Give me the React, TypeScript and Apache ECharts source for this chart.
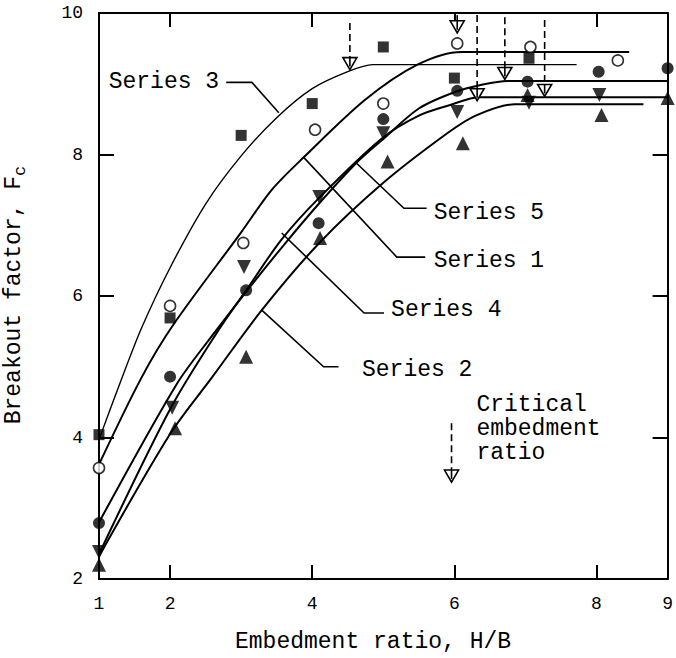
import React, { useEffect, useRef } from "react";
import * as echarts from "echarts";

const FONT = '"Liberation Mono", "DejaVu Sans Mono", monospace';

// Axis ticks / labels
const xLabelValues = [1, 2, 4, 6, 8, 9];
const xTickValues = [2, 4, 6, 8];
const yLabelValues = [2, 4, 6, 8, 10];
const yTickValues = [4, 6, 8];

// Measured points (H/B, Fc)
const series1Points = [[1, 3.57], [2, 5.86], [3.03, 6.75], [4.04, 8.35], [5, 8.72], [6.04, 9.57], [7.07, 9.52], [8.3, 9.33]]; // open circle
const series2Points = [[1, 2.2], [2.07, 4.13], [3.07, 5.14], [4.11, 6.82], [5.06, 7.9], [6.12, 8.16], [7.03, 8.84], [8.07, 8.56], [9, 8.8]]; // up triangle
const series3Points = [[1, 4.04], [2, 5.69], [3, 8.27], [4, 8.72], [5, 9.52], [6, 9.08], [7.05, 9.36]]; // square
const series4Points = [[1, 2.38], [2.03, 4.42], [3.04, 6.41], [4.1, 7.4], [5, 8.3], [6.04, 8.6], [7.05, 8.73], [8.04, 8.84]]; // down triangle
const series5Points = [[1, 2.79], [2, 4.86], [3.07, 6.08], [4.09, 7.03], [5, 8.5], [6.04, 8.9], [7.03, 9.03], [8.03, 9.17], [9, 9.22]]; // filled circle

// Fitted curves
const series1Curve = [[1, 3.62], [1.6, 4.85], [2.05, 5.6], [3, 6.9], [3.43, 7.5], [3.88, 7.96], [4.74, 8.77], [5.48, 9.27], [6.1, 9.45], [6.6, 9.45], [8.46, 9.45]];
const series2Curve = [[1, 2.32], [2, 4.05], [2.59, 4.85], [3.29, 5.8], [4.1, 6.75], [5, 7.6], [5.9, 8.3], [6.3, 8.55], [6.85, 8.71], [7.3, 8.71], [8.66, 8.71]];
const series3Curve = [[1, 3.97], [1.3, 4.78], [1.6, 5.55], [2, 6.4], [2.5, 7.3], [3, 7.98], [3.5, 8.52], [4, 8.93], [4.5, 9.17], [4.85, 9.27], [5.3, 9.27], [7.72, 9.27]];
const series4Curve = [[1, 2.35], [2, 4.4], [2.67, 5.5], [3.07, 6.08], [3.57, 6.8], [4.09, 7.38], [4.97, 8.22], [5.5, 8.55], [5.94, 8.7], [6.35, 8.81], [6.8, 8.81], [9, 8.81]];
const series5Curve = [[1, 2.8], [2.09, 4.75], [2.6, 5.45], [3.07, 6.06], [3.6, 6.72], [4.09, 7.3], [4.62, 7.88], [5, 8.22], [5.5, 8.65], [6, 8.88], [6.4, 8.99], [6.75, 9.04], [7.2, 9.04], [9, 9.04]];

// Critical embedment ratio arrows: [H/B, top, tip]
const criticalArrows = [[4.53, 9.86, 9.2], [6.04, 9.97, 9.72], [6.32, 9.97, 8.76], [6.71, 9.94, 9.06], [7.27, 9.9, 8.82]];
const keyArrow = [[5.96, 4.2, 3.37]];

// Series call-out labels (data coordinates)
const labelNames = ["Series 3", "Series 5", "Series 1", "Series 4", "Series 2"];
const labelAnchorX = [3.53, 4.62, 3.88, 3.57, 3.29];
const labelAnchorY = [8.59, 7.88, 7.96, 6.89, 5.8];
const labelKneeX = [3.15, 5.29, 5.19, 4.73, 4.16];
const labelKneeY = [9.02, 7.24, 6.55, 5.76, 5.0];
const labelEndX = [2.79, 5.61, 5.59, 5.01, 4.37];
const labelTextX = [2.69, 5.71, 5.71, 5.11, 4.7];
const labelTextY = [9.02, 7.18, 6.49, 5.8, 4.95];
const keyText = "Critical\nembedment\nratio";
const keyTextPos = [6.31, 4.12];

const TEXT_FONT = `23px ${FONT}`;

function arrowItem(params: any, api: any) {
  const x = api.value(0);
  const top = api.coord([x, api.value(1)]);
  const tip = api.coord([x, api.value(2)]);
  const hh = 12;
  const hw = 14;
  return {
    type: "group",
    children: [
      {
        type: "line",
        shape: { x1: top[0], y1: top[1], x2: tip[0], y2: tip[1] - hh },
        style: { stroke: "#000", lineWidth: 1.6, lineDash: [7, 4] },
      },
      {
        type: "polygon",
        shape: { points: [[tip[0] - hw / 2, tip[1] - hh], [tip[0] + hw / 2, tip[1] - hh], [tip[0], tip[1]]] },
        style: { fill: "#fff", stroke: "#000", lineWidth: 1.6 },
      },
      {
        type: "line",
        shape: { x1: tip[0], y1: tip[1] - hh, x2: tip[0], y2: tip[1] - 3 },
        style: { stroke: "#000", lineWidth: 1.6 },
      },
    ],
  };
}

function labelItem(params: any, api: any) {
  const i = params.dataIndex;
  const a = api.coord([labelAnchorX[i], labelAnchorY[i]]);
  const k = api.coord([labelKneeX[i], labelKneeY[i]]);
  const e = api.coord([labelEndX[i], labelKneeY[i]]);
  const t = api.coord([labelTextX[i], labelTextY[i]]);
  const align = labelTextX[i] < labelEndX[i] ? "right" : "left";
  return {
    type: "group",
    children: [
      {
        type: "polyline",
        shape: { points: [a, k, e] },
        style: { stroke: "#000", lineWidth: 1.6, fill: "none" },
      },
      {
        type: "text",
        style: {
          text: labelNames[i],
          x: t[0],
          y: t[1],
          fill: "#000",
          font: TEXT_FONT,
          align,
          textAlign: align,
          verticalAlign: "middle",
          textVerticalAlign: "middle",
        },
      },
    ],
  };
}

function keyTextItem(params: any, api: any) {
  const p = api.coord(keyTextPos);
  return {
    type: "text",
    style: {
      text: keyText,
      x: p[0],
      y: p[1],
      fill: "#000",
      font: TEXT_FONT,
      lineHeight: 24,
      align: "left",
      textAlign: "left",
      verticalAlign: "middle",
      textVerticalAlign: "middle",
    },
  };
}

const axisLineStyle = { color: "#000", width: 2 };

function curveSeries(data: number[][], width: number) {
  return {
    type: "line",
    data,
    symbol: "none",
    smooth: 0.3,
    silent: true,
    z: 2,
    lineStyle: { color: "#000", width },
  };
}

function pointSeries(name: string, data: number[][], symbol: string, size: number, rotate: number, open: boolean) {
  return {
    name,
    type: "scatter",
    data,
    symbol,
    symbolSize: size,
    symbolRotate: rotate,
    clip: false,
    z: 5,
    itemStyle: open
      ? { color: "#fff", borderColor: "#000", borderWidth: 1.6 }
      : { color: "#000" },
  };
}

export default function App() {
  const ref = useRef<HTMLDivElement>(null);
  useEffect(() => {
    const chart = echarts.init(ref.current as HTMLDivElement, null, { renderer: "svg" });
    const option: any = {
      animation: false,
      backgroundColor: "#fff",
      grid: { left: 99, right: 4, top: 13, bottom: 79, containLabel: false },
      xAxis: [
        {
          type: "value",
          min: 1,
          max: 9,
          interval: 1,
          position: "bottom",
          axisLine: { show: true, onZero: false, lineStyle: axisLineStyle },
          axisTick: { show: true, inside: true, length: 14, customValues: xTickValues, lineStyle: axisLineStyle },
          axisLabel: { customValues: xLabelValues, margin: 16, color: "#000", fontFamily: FONT, fontSize: 18 },
          splitLine: { show: false },
        },
        {
          type: "value",
          min: 1,
          max: 9,
          interval: 1,
          position: "top",
          axisLine: { show: true, onZero: false, lineStyle: axisLineStyle },
          axisTick: { show: true, inside: true, length: 14, customValues: xTickValues, lineStyle: axisLineStyle },
          axisLabel: { show: false },
          splitLine: { show: false },
        },
      ],
      yAxis: [
        {
          type: "value",
          min: 2,
          max: 10,
          interval: 2,
          position: "left",
          axisLine: { show: true, onZero: false, lineStyle: axisLineStyle },
          axisTick: { show: true, inside: true, length: 15, customValues: yTickValues, lineStyle: axisLineStyle },
          axisLabel: { customValues: yLabelValues, margin: 16, color: "#000", fontFamily: FONT, fontSize: 18 },
          splitLine: { show: false },
        },
        {
          type: "value",
          min: 2,
          max: 10,
          interval: 2,
          position: "right",
          axisLine: { show: true, onZero: false, lineStyle: axisLineStyle },
          axisTick: { show: true, inside: true, length: 15, customValues: yTickValues, lineStyle: axisLineStyle },
          axisLabel: { show: false },
          splitLine: { show: false },
        },
      ],
      graphic: [
        {
          type: "text",
          x: 235,
          y: 642,
          style: {
            text: "Embedment ratio, H/B",
            font: TEXT_FONT,
            fill: "#000",
            verticalAlign: "middle",
            textVerticalAlign: "middle",
          },
        },
        {
          type: "text",
          x: 14,
          y: 295,
          rotation: Math.PI / 2,
          style: {
            text: "Breakout factor, F{s|c}",
            font: TEXT_FONT,
            fill: "#000",
            lineHeight: 30,
            align: "center",
            textAlign: "center",
            verticalAlign: "middle",
            textVerticalAlign: "middle",
            rich: {
              s: { fontFamily: FONT, fontSize: 17, verticalAlign: "bottom", lineHeight: 30, fill: "#000", color: "#000" },
            },
          },
        },
      ],
      series: [
        curveSeries(series3Curve, 1.4),
        curveSeries(series1Curve, 2),
        curveSeries(series5Curve, 2),
        curveSeries(series4Curve, 2),
        curveSeries(series2Curve, 2),
        pointSeries("Series 3", series3Points, "rect", 11, 0, false),
        pointSeries("Series 1", series1Points, "circle", 11, 0, true),
        pointSeries("Series 5", series5Points, "circle", 12, 0, false),
        pointSeries("Series 4", series4Points, "triangle", 14, 180, false),
        pointSeries("Series 2", series2Points, "triangle", 14, 0, false),
        {
          type: "custom",
          data: [...criticalArrows, ...keyArrow],
          renderItem: arrowItem,
          clip: false,
          silent: true,
          z: 6,
        },
        {
          type: "custom",
          data: labelNames.map((_, i) => [labelAnchorX[i], labelAnchorY[i]]),
          renderItem: labelItem,
          clip: false,
          silent: true,
          z: 4,
        },
        {
          type: "custom",
          data: [keyTextPos],
          renderItem: keyTextItem,
          clip: false,
          silent: true,
          z: 4,
        },
      ],
    };
    chart.setOption(option);
    return () => chart.dispose();
  }, []);
  return (
    <div
      ref={ref}
      style={{ position: "fixed", left: 0, top: 0, width: 676, height: 658, background: "#fff" }}
    />
  );
}
